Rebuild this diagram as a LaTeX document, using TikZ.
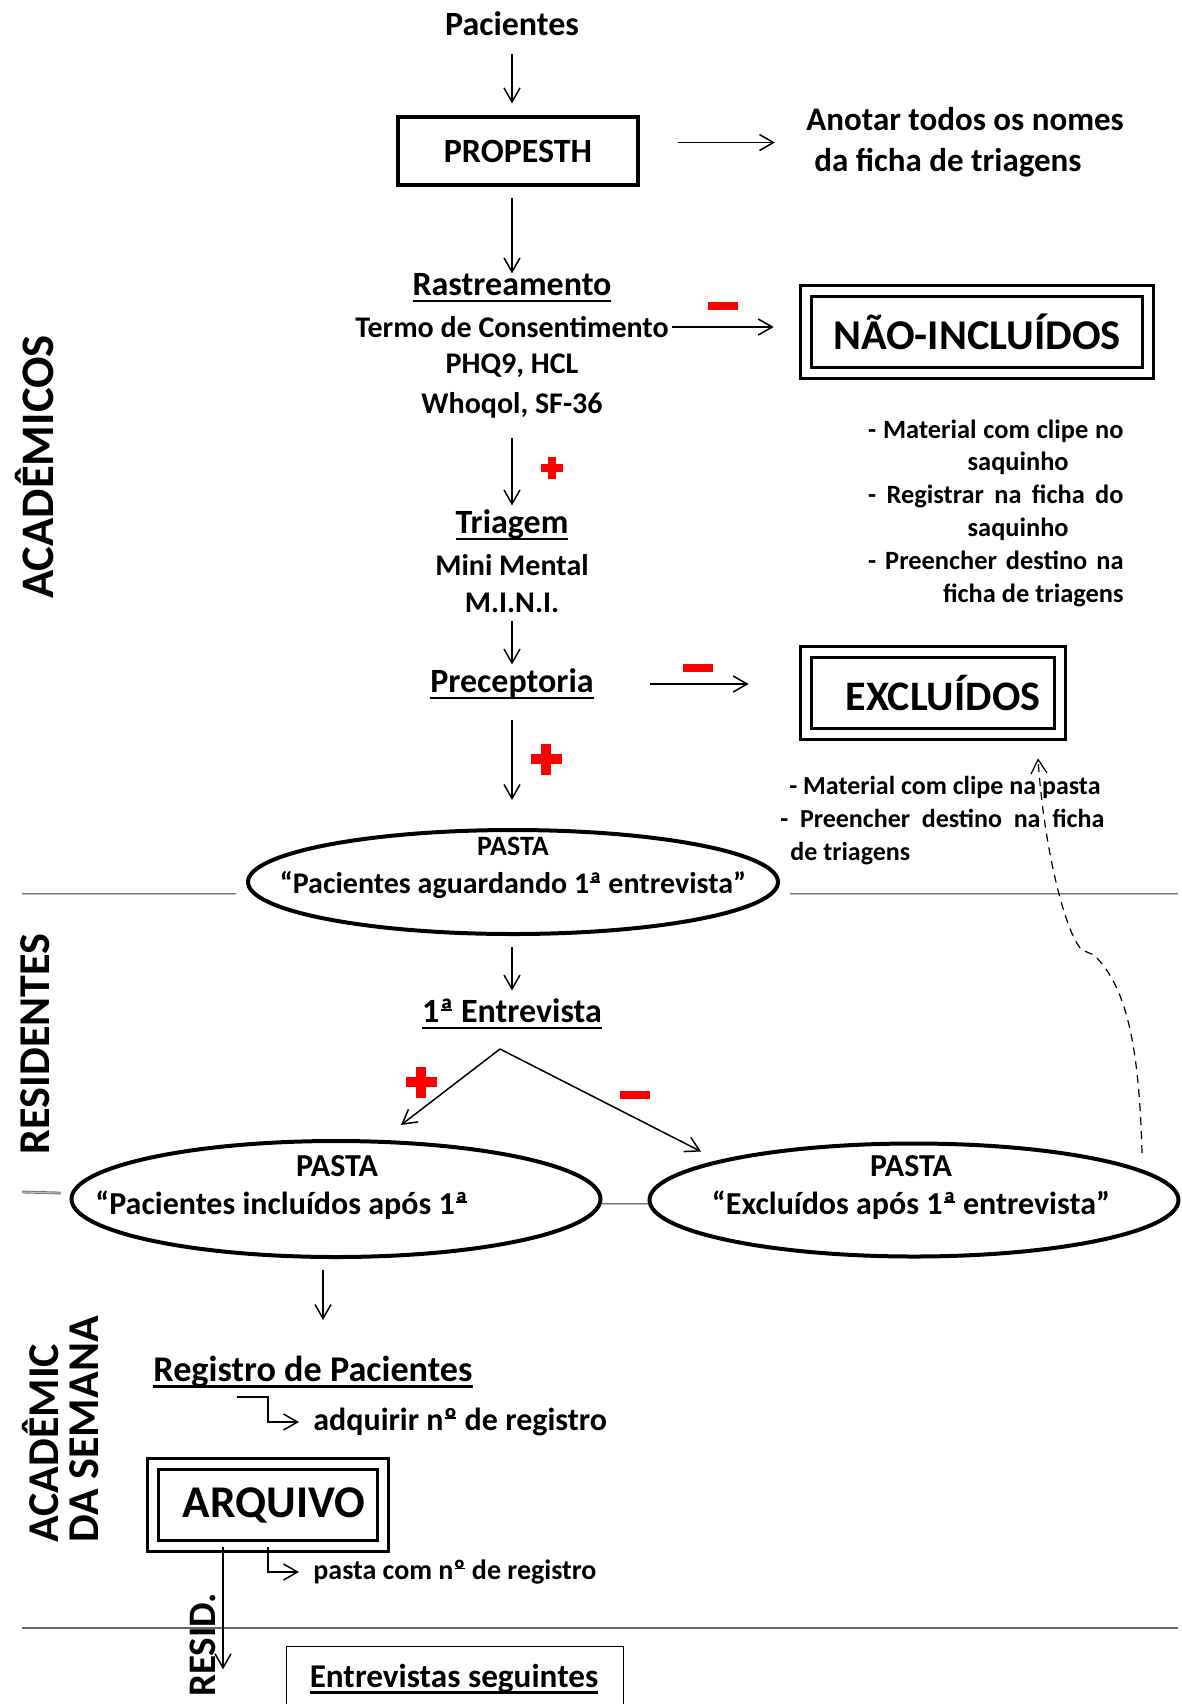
\documentclass[tikz,border=0pt]{standalone}
\usepackage{fontspec}
\setmainfont{Carlito}
\usetikzlibrary{arrows.meta,shapes.geometric,calc}

\newcommand{\ulin}[1]{\setbox0\hbox{#1}\leavevmode\rlap{\rule[-3.2pt]{\wd0}{1.3pt}}\box0}
\newcommand{\ordA}{\setbox2\hbox{ª}\rlap{\kern0.04em\rule[0.36em]{\dimexpr\wd2-0.08em\relax}{0.055em}}\box2}
\newcommand{\ordO}{\setbox2\hbox{º}\rlap{\kern0.04em\rule[0.36em]{\dimexpr\wd2-0.08em\relax}{0.055em}}\box2}

\begin{document}
\begin{tikzpicture}[x=0.5pt, y=-0.5pt,
  txt/.style={inner sep=0pt, font=\bfseries\fontsize{15}{19}\selectfont},
  head/.style={inner sep=0pt, font=\bfseries\fontsize{17}{20}\selectfont},
  note/.style={inner sep=0pt, font=\bfseries\fontsize{13.2}{16.4}\selectfont},
  box/.style={draw, line width=1.6pt, inner sep=0pt, font=\bfseries\fontsize{17}{20}\selectfont},
  dblbox/.style={draw, line width=1.3pt, double, double distance=4.2pt, inner sep=0pt},
  pasta/.style={ellipse, draw, line width=2pt, fill=white, inner sep=0pt},
  vlab/.style={rotate=90, inner sep=0pt, font=\bfseries\fontsize{22}{20}\selectfont},
  arr/.style={-{Straight Barb[length=7pt,width=8pt]}, line width=0.75pt},
  sep/.style={draw=black!55, line width=0.45pt, double=black!25, double distance=0.5pt},
  minus/.style={fill=red, inner sep=0pt, minimum width=15pt, minimum height=3.6pt},
  pics/redplus/.style={code={
    \fill[red] (-#1*0.17,-#1*0.5) rectangle (#1*0.17,#1*0.5);
    \fill[red] (-#1*0.5,-#1*0.17) rectangle (#1*0.5,#1*0.17);}}
]
\useasboundingbox (0,0) rectangle (1182,1704);
\clip (0,0) rectangle (1182,1704);

% lanes
\node[vlab, font=\bfseries\fontsize{23.3}{20}\selectfont] (lanAcad) at (35,467) {ACADÊMICOS};
\node[vlab] (lanRes) at (35,1044) {RESIDENTES};
\node[vlab, align=left, anchor=west] (lanSem) at (61,1543) {ACADÊMIC\\DA SEMANA};
\node[vlab, font=\bfseries\fontsize{19.5}{20}\selectfont] (lanResid) at (203,1645) {RESID.};

\draw[sep] (22,894) -- (236,894);
\draw[sep] (790,894) -- (1178,894);
\draw[sep] (22,1192) -- (61,1193);
\draw[sep] (601,1204) -- (650,1204);
\draw[draw=black!60, line width=1pt] (22,1628) -- (1178,1628);

% academicos
\node[head] (pac) at (512,24) {Pacientes};
\node[box, minimum width=120pt, minimum height=34pt] (propesth) at (518,151) {PROPESTH};
\node[head, anchor=west, align=left, font=\bfseries\fontsize{16.5}{20.5}\selectfont] (anotar) at (806,142.5) {Anotar todos os nomes\\\hspace*{4pt}da ficha de triagens};

\node[head] (rast) at (512,288) {\ulin{Rastreamento}};
\node[txt] (termo) at (512,327) {Termo de Consentimento};
\node[txt] (phq) at (512,366) {PHQ9, HCL};
\node[txt] (whoqol) at (512,405) {Whoqol, SF-36};
\node[dblbox, minimum width=171pt, minimum height=41pt, font=\bfseries\fontsize{21.2}{22}\selectfont] (naoinc) at (977,332) {NÃO-INCLUÍDOS};
\node[note, anchor=east, align=right] (naonotes) at (1124,513) {\makebox[127.7pt][s]{- Material com clipe no}\\saquinho\rule{27.5pt}{0pt}\\\makebox[127.7pt][s]{- Registrar na ficha do}\\saquinho\rule{27.5pt}{0pt}\\\makebox[127.7pt][s]{- Preencher destino na}\\ficha de triagens};

\node[head] (triagem) at (512,525) {\ulin{Triagem}};
\node[txt] (minimental) at (512,565) {Mini Mental};
\node[txt] (mini) at (512,603) {M.I.N.I.};
\node[head] (precep) at (512,684) {\ulin{Preceptoria}};
\node[dblbox, minimum width=127pt, minimum height=41pt, font=\bfseries\fontsize{21}{22}\selectfont] (excl) at (933,693) {\hspace*{10pt}EXCLUÍDOS};
\node[note, anchor=west, align=left, font=\bfseries\fontsize{13}{16.5}\selectfont] (exclnotes) at (780,821) {\hspace*{4.5pt}- Material com clipe na pasta\\\makebox[162pt][s]{- Preencher destino na ficha}\\\hspace*{5pt}de triagens};

\node[pasta, minimum width=265pt, minimum height=52pt] (pastaAg) at (513,882) {};
\node[txt, font=\bfseries\fontsize{14}{16}\selectfont] (pastaAgHd) at (513,846) {PASTA};
\node[txt] (pastaAgTxt) at (513,885) {“Pacientes aguardando 1\ordA{} entrevista”};

% residentes
\node[head] (entrev) at (512,1014) {\ulin{1\ordA{} Entrevista}};
\node[pasta, minimum width=264.5pt, minimum height=58pt] (pastaIn) at (336,1199) {};
\node[pasta, minimum width=264.5pt, minimum height=56.5pt] (pastaEx) at (914,1200) {};
\node[txt, font=\bfseries\fontsize{16}{19}\selectfont] (pastaInHd) at (337,1166) {PASTA};
\node[txt, font=\bfseries\fontsize{16}{19}\selectfont, anchor=west] (pastaInTxt) at (95,1205) {“Pacientes incluídos após 1\ordA};
\node[txt, font=\bfseries\fontsize{16}{19}\selectfont] (pastaExHd) at (911,1166) {PASTA};
\node[txt, font=\bfseries\fontsize{16}{19}\selectfont] (pastaExTxt) at (911,1205) {“Excluídos após 1\ordA{} entrevista”};

% academico da semana
\node[head, font=\bfseries\fontsize{18.1}{20}\selectfont] (registro) at (313,1372) {\ulin{Registro de Pacientes}};
\node[txt, anchor=west, font=\bfseries\fontsize{16}{19}\selectfont] (adquirir) at (313,1422) {adquirir n\ordO{} de registro};
\node[dblbox, minimum width=115pt, minimum height=41pt, font=\bfseries\fontsize{22.7}{24}\selectfont] (arquivo) at (268,1505) {\hspace*{6pt}ARQUIVO};
\node[txt, anchor=west, font=\bfseries\fontsize{14}{19}\selectfont] (pastareg) at (313,1572) {pasta com n\ordO{} de registro};
\node[draw, line width=0.5pt, minimum width=168.5pt, minimum height=60pt, anchor=north, inner sep=0pt] (segbox) at (454.5,1646) {};
\node[head, font=\bfseries\fontsize{16.6}{20}\selectfont] (seguintes) at (454,1679) {\ulin{Entrevistas seguintes}};

% sinais
\node[minus] (minusA) at (723,306) {};
\node[minus] (minusB) at (698,668) {};
\node[minus, minimum width=15pt, minimum height=4pt] (minusC) at (635,1095) {};
\pic at (552,468) {redplus=22};
\pic at (546,759) {redplus=31};
\pic at (421,1082) {redplus=31};

% fluxo
\draw[arr, shorten <=9pt, shorten >=6pt] (pac.south) -- (pac.south |- propesth.north);
\draw[arr, shorten <=5.5pt] (rast.north |- propesth.south) -- (rast.north);
\draw[arr, shorten <=19pt, shorten >=15.5pt] (anotar.west -| propesth.east) -- (anotar.west);
\draw[arr, shorten <=1.5pt, shorten >=15.5pt] (termo.east) -- (termo.east -| naoinc.west);
\draw[arr, shorten <=10pt, shorten >=2pt] (whoqol.south) -- (triagem.north);
\draw[arr, shorten <=4pt, shorten >=2pt] (mini.south) -- (precep.north);
\draw[arr, shorten <=28pt, shorten >=28pt] (precep.east) -- (precep.east -| excl.west);
\draw[arr, shorten <=10pt, shorten >=14pt] (precep.south) -- (precep.south |- pastaAg.north);
\draw[arr, shorten <=5.5pt, shorten >=4pt] (entrev.south |- pastaAg.south) -- (entrev.north);

\coordinate (split) at (500,1049);
\draw[arr] (split) -- ($(pastaIn.north)+(65,-14)$);
\draw[arr] (split) -- ($(pastaEx.north)+(-213,10)$);

\coordinate (dashA) at ($(pastaEx.east)+(-38.5,-47)$);
\coordinate (dashB) at ($(excl.south)+(105,23)$);
\draw[arr, line width=0.6pt, dash pattern=on 4pt off 3pt] (dashA) .. controls (1139,1040) and (1125,985) .. (1094,955) -- (1082,950) .. controls (1066,935) and (1044,850) .. (dashB);

\draw[arr] ([xshift=-6.5pt,yshift=-5.5pt]pastaIn.south) -- ++(0,50);
\coordinate (elbowA) at (237,1397);
\draw[arr] (elbowA) -| ([xshift=-22.5pt]adquirir.west) -- ([xshift=-7pt]adquirir.west);
\draw[arr] (arquivo.south) |- ([xshift=-7pt]pastareg.west);
\draw[arr] ([xshift=-22.5pt]arquivo.south) -- ++(0,122);
\end{tikzpicture}
\end{document}
